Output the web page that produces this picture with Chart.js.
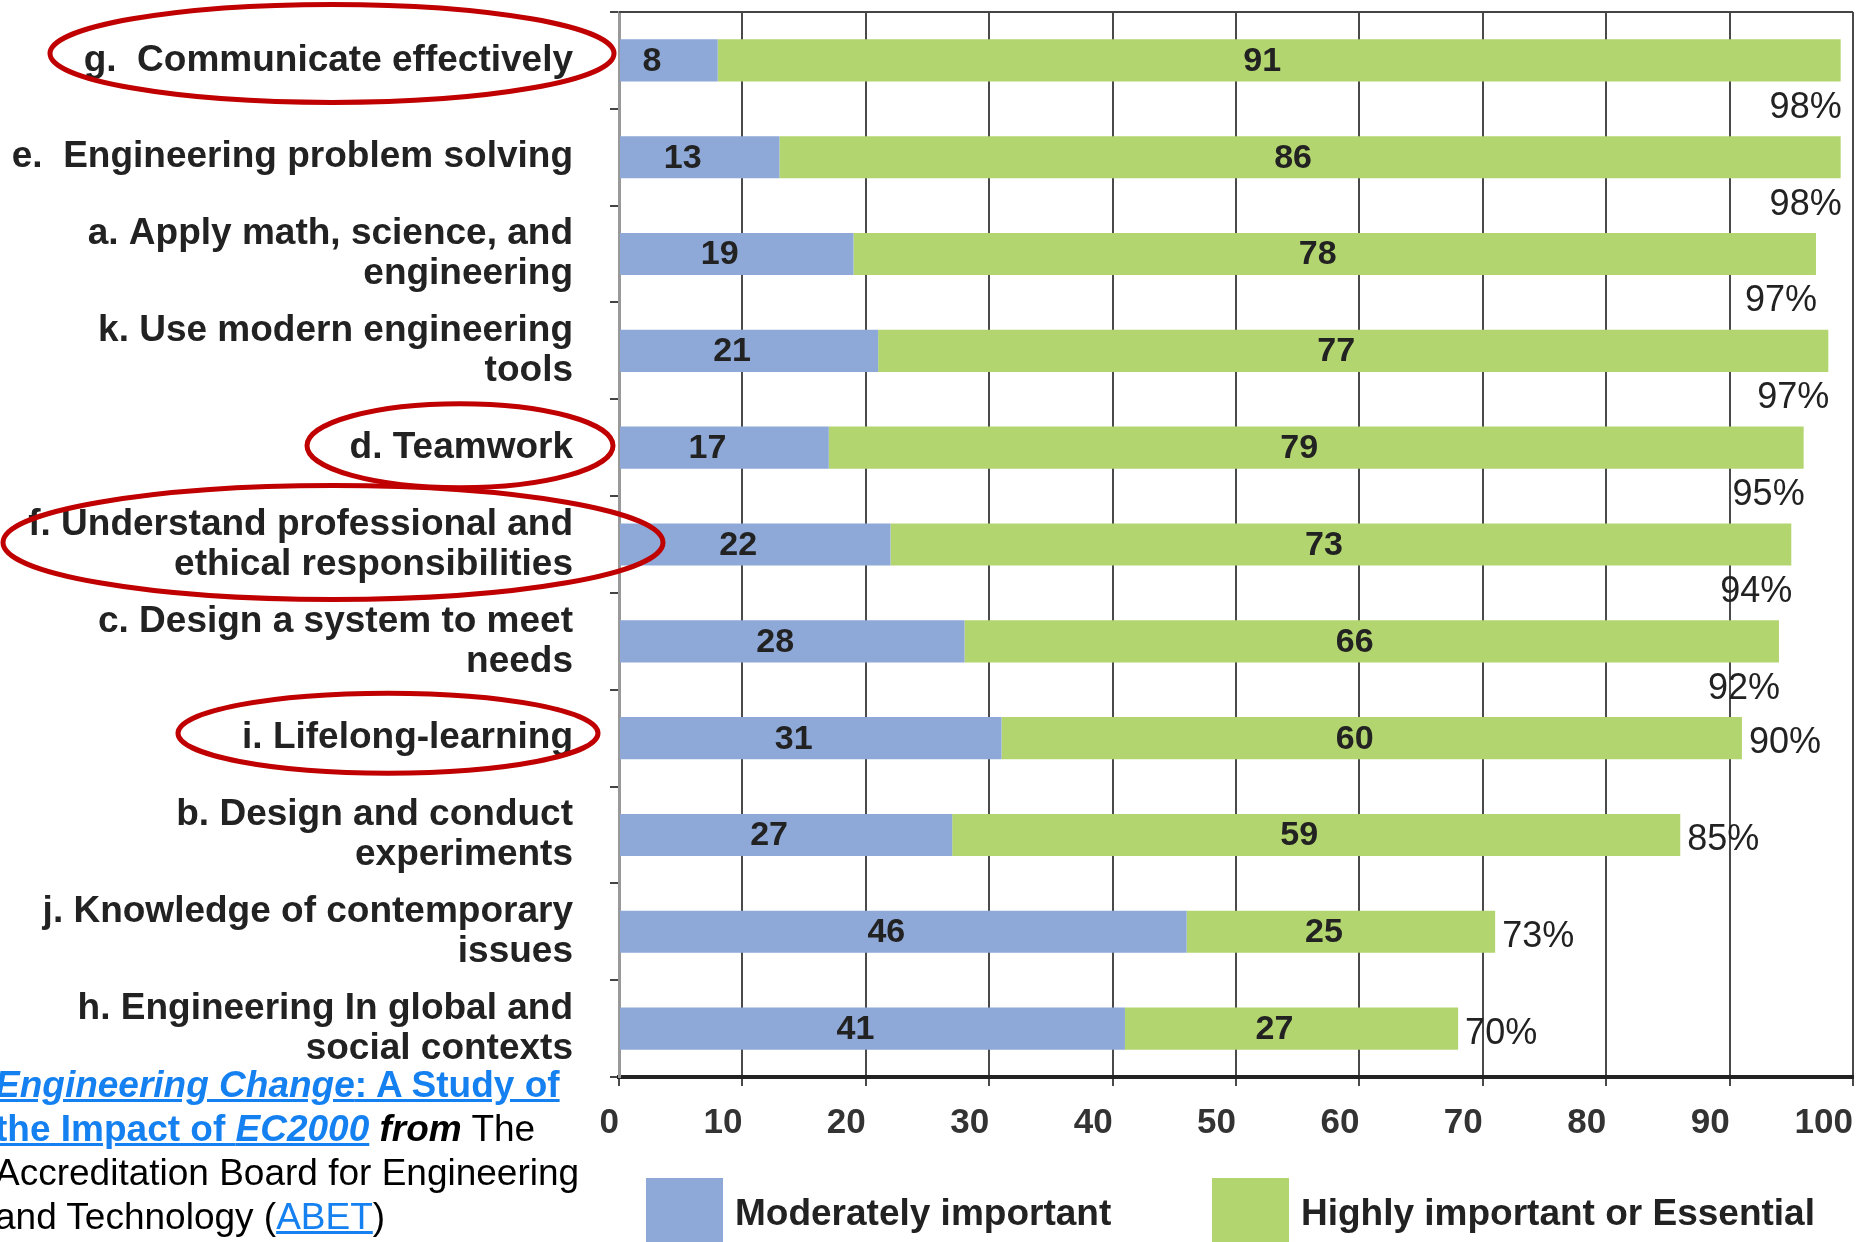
<!DOCTYPE html>
<html>
<head>
<meta charset="utf-8">
<script src="https://cdn.jsdelivr.net/npm/chart.js@4.4.1/dist/chart.umd.min.js"></script>
<style>
  html, body { margin: 0; padding: 0; background: #fff; overflow: hidden; width: 1859px; height: 1242px; }
  #wrap { position: absolute; left: 0; top: 0; width: 1859px; height: 1242px; }
  #source { position: absolute; left: -5px; top: 1063px; font: 37px "Liberation Sans", Arial, sans-serif;
            line-height: 44px; color: #000; white-space: nowrap; }
  #source a { color: #1580f0; text-decoration: underline; }
  .key { position: absolute; top: 1178px; height: 80px; font: bold 37px "Liberation Sans", Arial, sans-serif;
         color: #222; white-space: nowrap; }
  .key span.sw { position: absolute; left: 0; top: 0; width: 77px; height: 80px; }
  .key span.tx { position: absolute; left: 89px; top: 13px; line-height: 44px; }
</style>
</head>
<body>
<div id="wrap"><canvas id="chart"></canvas></div>
<div id="source">
  <a><b><i>Engineering Change</i>: A Study of</b></a><br>
  <a><b>the Impact of <i>EC2000</i></b></a> <b><i>from</i></b> The<br>
  Accreditation Board for Engineering<br>
  and Technology (<a>ABET</a>)
</div>
<div id="keys"></div>
<script>
// outcomes, top to bottom
const outcomes = [
  'g.  Communicate effectively',
  'e.  Engineering problem solving',
  ['a. Apply math, science, and', 'engineering'],
  ['k. Use modern engineering', 'tools'],
  'd. Teamwork',
  ['f. Understand professional and', 'ethical responsibilities'],
  ['c. Design a system to meet', 'needs'],
  'i. Lifelong-learning',
  ['b. Design and conduct', 'experiments'],
  ['j. Knowledge of contemporary', 'issues'],
  ['h. Engineering In global and', 'social contexts']
];
const moderately = [8, 13, 19, 21, 17, 22, 28, 31, 27, 46, 41];
const highly = [91, 86, 78, 77, 79, 73, 66, 60, 59, 25, 27];
const totalPct = [98, 98, 97, 97, 95, 94, 92, 90, 85, 73, 70];
const seriesNames = ['Moderately important', 'Highly important or Essential'];

const FONT = '"Liberation Sans", Arial, sans-serif';
const BLUE = '#8ea8d7';
const GREEN = '#b3d56f';
const TEXT = '#222';

// red rings drawn around some of the outcome labels
const rings = [
  { row: 0, cx: 332, rx: 282, ry: 49, dy: -7 },
  { row: 4, cx: 460, rx: 153, ry: 42, dy: -2 },
  { row: 5, cx: 333, rx: 330, ry: 57, dy: -2 },
  { row: 7, cx: 388, rx: 210, ry: 40, dy: -5 }
];

const extras = {
  id: 'extras',
  beforeDatasetsDraw(chart) {
    const { ctx, chartArea } = chart;
    ctx.save();
    ctx.strokeStyle = '#444';
    ctx.lineWidth = 2;
    ctx.beginPath();
    ctx.moveTo(chartArea.left, chartArea.top);
    ctx.lineTo(chartArea.right, chartArea.top);
    ctx.stroke();
    ctx.restore();
  },
  afterDatasetsDraw(chart) {
    const { ctx } = chart;
    const x = chart.scales.x, y = chart.scales.y;
    ctx.save();
    ctx.fillStyle = TEXT;
    ctx.textBaseline = 'middle';

    // numbers inside the segments
    ctx.font = 'bold 34px ' + FONT;
    ctx.textAlign = 'center';
    chart.data.datasets.forEach((ds, d) => {
      chart.getDatasetMeta(d).data.forEach((bar, i) => {
        ctx.fillText(String(ds.data[i]), (bar.x + bar.base) / 2 - 17, bar.y + 1);
      });
    });

    // totals: under the bar for the long ones, at the end for the rest
    ctx.font = '36px ' + FONT;
    const slot = y.getPixelForValue(1) - y.getPixelForValue(0);
    totalPct.forEach((p, i) => {
      const end = x.getPixelForValue(moderately[i] + highly[i]);
      const cy = y.getPixelForValue(i);
      if (i < 7) {
        ctx.textAlign = 'right';
        ctx.fillText(p + '%', end + 1, cy + slot * 0.49);
      } else {
        ctx.textAlign = 'left';
        ctx.fillText(p + '%', end + 7, cy + 5);
      }
    });
    ctx.restore();
  },
  afterDraw(chart) {
    const { ctx } = chart;
    const y = chart.scales.y;
    ctx.save();
    ctx.strokeStyle = '#c00000';
    ctx.lineWidth = 5;
    rings.forEach(r => {
      ctx.beginPath();
      ctx.ellipse(r.cx, y.getPixelForValue(r.row) + r.dy, r.rx, r.ry, 0, 0, Math.PI * 2);
      ctx.stroke();
    });
    ctx.restore();
  }
};

const chart = new Chart(document.getElementById('chart'), {
  type: 'bar',
  data: {
    labels: outcomes,
    datasets: [
      { label: seriesNames[0], data: moderately, backgroundColor: BLUE, borderWidth: 0 },
      { label: seriesNames[1], data: highly, backgroundColor: GREEN, borderWidth: 0 }
    ]
  },
  options: {
    indexAxis: 'y',
    responsive: true,
    maintainAspectRatio: false,
    animation: false,
    barPercentage: 0.435,
    categoryPercentage: 1,
    layout: { padding: { left: 0, right: 6, top: 12, bottom: 0 } },
    plugins: {
      tooltip: { enabled: false },
      legend: { display: false }
    },
    scales: {
      x: {
        stacked: true, min: 0, max: 100,
        ticks: { stepSize: 10, align: 'end', padding: 16, color: '#333',
                 font: { family: FONT, size: 35, weight: 'bold' } },
        grid: { color: '#4a4a4a', lineWidth: 2, tickLength: 9 },
        border: { color: '#222', width: 4 },
        afterFit(s) { s.height = 165; s.paddingLeft = 0; s.paddingRight = 0; }
      },
      y: {
        stacked: true,
        ticks: { autoSkip: false, padding: 37, color: TEXT,
                 font: { family: FONT, size: 37, weight: 'bold', lineHeight: 1.08 } },
        grid: { drawOnChartArea: false, tickLength: 9, color: '#444', lineWidth: 2, offset: true },
        border: { color: '#999', width: 3 },
        afterFit(s) { s.width = 619; s.paddingTop = 0; s.paddingBottom = 0; }
      }
    }
  },
  plugins: [extras]
});

// legend keys under the axis, built from the dataset names and colours
const keyLeft = [646, 1212];
chart.data.datasets.forEach((ds, i) => {
  const k = document.createElement('div');
  k.className = 'key';
  k.style.left = keyLeft[i] + 'px';
  k.innerHTML = '<span class="sw" style="background:' + ds.backgroundColor + '"></span><span class="tx"></span>';
  k.querySelector('.tx').textContent = ds.label;
  document.getElementById('keys').appendChild(k);
});
</script>
</body>
</html>
